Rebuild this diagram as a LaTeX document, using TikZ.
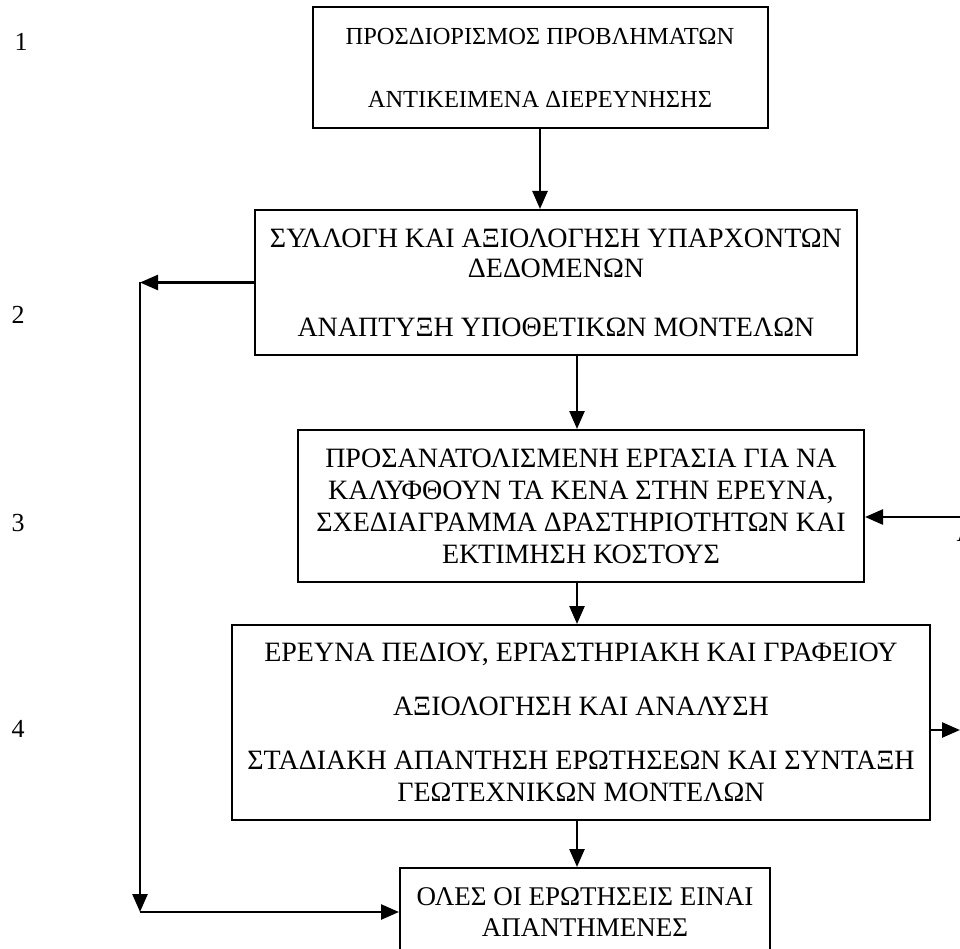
\documentclass[tikz,border=0pt]{standalone}
\usepackage{fontspec}
\setmainfont{Liberation Serif}
\usepackage{tikz}
\usetikzlibrary{arrows.meta, calc}

\begin{document}
\begin{tikzpicture}[x=1pt, y=-1pt,
  box/.style={draw, line width=2pt, align=center, inner sep=0pt, font=\fontsize{28}{32}\selectfont},
  arr/.style={line width=2.5pt, -{Triangle[length=18pt, width=15pt]}},
  num/.style={font=\fontsize{26}{31}\selectfont}]
\useasboundingbox (0,0) rectangle (960,949);
\clip (0,0) rectangle (960,949);
\node[box, font=\fontsize{24.5}{30}\selectfont, minimum width=455pt, minimum height=121pt] (b1) at (540,67.5) {ΠΡΟΣΔΙΟΡΙΣΜΟΣ ΠΡΟΒΛΗΜΑΤΩΝ\\[33pt]ΑΝΤΙΚΕΙΜΕΝΑ ΔΙΕΡΕΥΝΗΣΗΣ};
\node[box, font=\fontsize{28}{30}\selectfont, minimum width=602pt, minimum height=145pt] (b2) at (556,282.5) {ΣΥΛΛΟΓΗ ΚΑΙ ΑΞΙΟΛΟΓΗΣΗ ΥΠΑΡΧΟΝΤΩΝ\\ΔΕΔΟΜΕΝΩΝ\\[29pt]ΑΝΑΠΤΥΞΗ ΥΠΟΘΕΤΙΚΩΝ ΜΟΝΤΕΛΩΝ};
\node[box, minimum width=566pt, minimum height=152pt] (b3) at (581,506) {ΠΡΟΣΑΝΑΤΟΛΙΣΜΕΝΗ ΕΡΓΑΣΙΑ ΓΙΑ ΝΑ\\ΚΑΛΥΦΘΟΥΝ ΤΑ ΚΕΝΑ ΣΤΗΝ ΕΡΕΥΝΑ,\\ΣΧΕΔΙΑΓΡΑΜΜΑ ΔΡΑΣΤΗΡΙΟΤΗΤΩΝ ΚΑΙ\\ΕΚΤΙΜΗΣΗ ΚΟΣΤΟΥΣ};
\node[box, minimum width=698pt, minimum height=195pt] (b4) at (581,722.5) {ΕΡΕΥΝΑ ΠΕΔΙΟΥ, ΕΡΓΑΣΤΗΡΙΑΚΗ ΚΑΙ ΓΡΑΦΕΙΟΥ\\[22pt]ΑΞΙΟΛΟΓΗΣΗ ΚΑΙ ΑΝΑΛΥΣΗ\\[22pt]ΣΤΑΔΙΑΚΗ ΑΠΑΝΤΗΣΗ ΕΡΩΤΗΣΕΩΝ ΚΑΙ ΣΥΝΤΑΞΗ\\ΓΕΩΤΕΧΝΙΚΩΝ ΜΟΝΤΕΛΩΝ};
\node[box, font=\fontsize{27}{31}\selectfont, anchor=north, minimum width=370pt, inner ysep=20pt] (b5) at (585,867) {ΟΛΕΣ ΟΙ ΕΡΩΤΗΣΕΙΣ ΕΙΝΑΙ\\ΑΠΑΝΤΗΜΕΝΕΣ};
% stage numbers
\node[num] (n1) at (21,42) {1};
\node[num] (n2) at (18,315) {2};
\node[num] (n3) at (18,523) {3};
\node[num] (n4) at (18,729) {4};
\node[num, anchor=base west] (cut) at (953,541) {Α};
% main column
\coordinate (mid) at (577,0);
\draw[arr] (b1.south) -- (b1.south |- b2.north);
\draw[arr] (b2.south -| mid) -- (b3.north -| mid);
\draw[arr] (b3.south -| mid) -- (b4.north -| mid);
\draw[arr] (b4.south -| mid) -- (b5.north -| mid);
% loop on the left
\coordinate (lt) at (140,282.5);
\coordinate (lb) at (140,912);
\draw[arr] (b2.west) -- (lt);
\draw[arr] (lt) -- (lb);
\draw[arr] (lb) -- (lb -| b5.west);
% side arrows
\coordinate (rin) at (975,517);
\coordinate (rout) at (960,730);
\draw[arr] (rin) -- (rin -| b3.east);
\draw[arr] (rout -| b4.east) -- (rout);
\end{tikzpicture}
\end{document}
